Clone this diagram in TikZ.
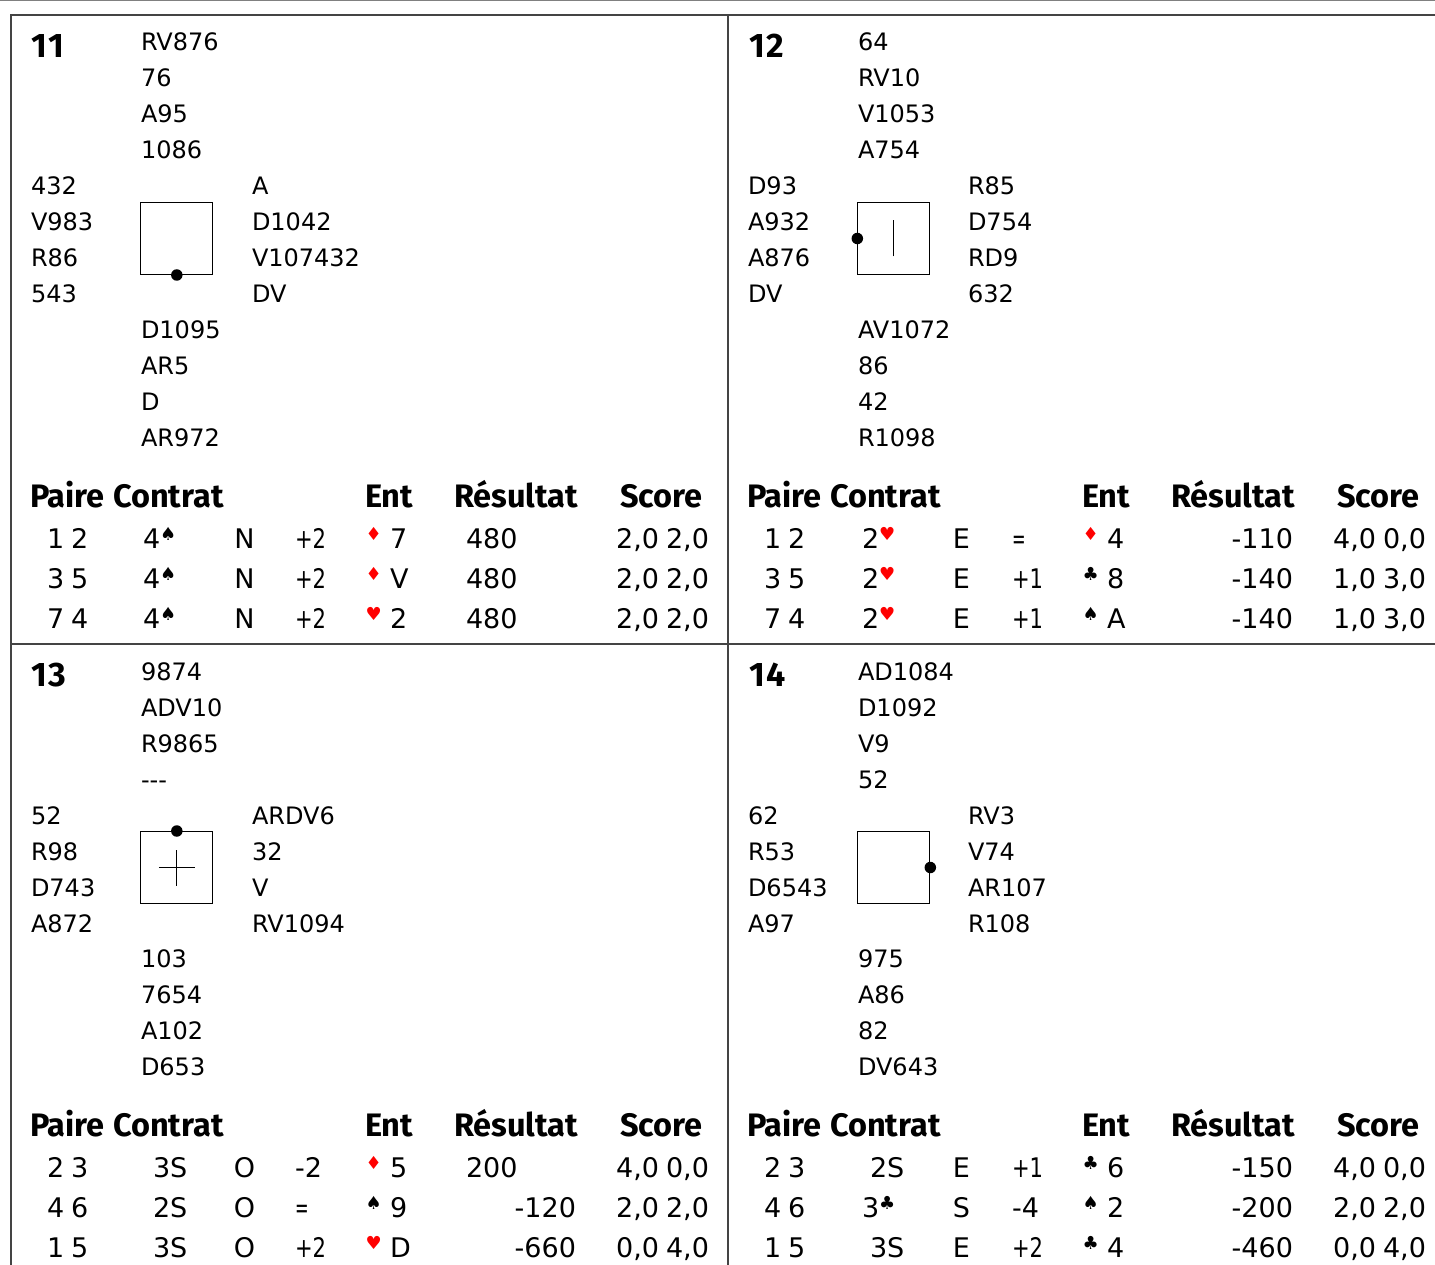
\documentclass[tikz,border=0pt]{standalone}
\usepackage{fontspec}
\setmainfont{DejaVu Sans}
\newfontfamily\headfont{Fira Sans}[BoldFont={Fira Sans Bold}]
\definecolor{rule}{HTML}{444444}
\definecolor{topline}{HTML}{808080}
\newcommand\suitmark[2]{{\fontsize{18}{18}\selectfont\raisebox{8pt}{\textcolor{#1}{#2}}}}
\newcommand\Sp{\suitmark{black}{♠}}
\newcommand\Cl{\suitmark{black}{♣}}
\newcommand\He{\suitmark{red}{♥}}
\newcommand\Di{\suitmark{red}{♦}}
\newcommand\Pl[1]{\scalebox{.78}[1]{#1}}
\newcommand\Eq{\scalebox{.6}[1]{=}}
\tikzset{
  x=1pt,y=-1pt,
  cell/.style={inner sep=0pt,outer sep=0pt,anchor=base west,font=\fontsize{24}{24}\selectfont},
  tcell/.style={cell,font=\fontsize{27}{27}\selectfont},
  tcellr/.style={tcell,anchor=base east},
  tcellc/.style={tcell,anchor=base},
  head/.style={cell,font=\headfont\bfseries\fontsize{32.5}{32.5}\selectfont},
  num/.style={cell,font=\headfont\bfseries\fontsize{34}{34}\selectfont\addfontfeature{LetterSpace=6}},
  board/.style={draw=black,line width=1pt,inner sep=0pt,minimum size=72pt},
  dealer/.style={circle,fill=black,inner sep=0pt,minimum size=11.5pt},
  frameline/.style={draw=rule,line width=1.4pt},
}
\newcommand\hand[4]{\foreach \t [count=\i] in {#4} {\node[cell] (#1\i) at (#2,{#3+36*(\i-1)}) {\t};}}
\newcommand\tablehead[1]{%
  \node[head] (#1paire) at (30,507) {Paire};
  \node[head] (#1contrat) at (113,507) {Contrat};
  \node[head] (#1ent) at (365,507) {Ent};
  \node[head] (#1res) at (454,507) {Résultat};
  \node[head] (#1score) at (620,507) {Score};}
\newcommand\tablerow[8]{%
  \node[tcell] (#1p) at (47,#2) {\spaceskip=.26em #3};
  \node[tcellc] (#1d) at (244.5,#2) {#4};
  \node[tcell] (#1o) at (295,#2) {#5};
  \node[tcell] (#1s) at (365.5,#2) {#6};
  \node[tcell] (#1c) at (390,#2) {#7};
  \node[tcellr] (#1sc) at (709,#2) {\spaceskip=.26em #8};}
\newcommand\contract[4]{\node[tcell] (#1) at (#2,#3) {#4};}
\newcommand\resleft[3]{\node[tcell] (#1) at (466,#2) {#3};}
\newcommand\resright[3]{\node[tcellr] (#1) at (576,#2) {#3};}
\begin{document}
\begin{tikzpicture}
\useasboundingbox (0,0) rectangle (1435,1265);
\draw[topline,line width=1.4pt] (0,0.5) -- (1435,0.5);
\draw[frameline] (1435,15) -- (11,15) -- (11,1265);
\draw[frameline] (728,15) -- (728,1265);
\draw[frameline] (11,644) -- (1435,644);

% ---- 11
\begin{scope}
\node[num] (n11) at (31,57.5) {11};
\hand{a}{141}{51}{RV876,76,A95,1086}
\hand{b}{31}{195}{432,V983,R86,543}
\hand{c}{252}{195}{A,D1042,V107432,DV}
\hand{d}{141}{338.5}{D1095,AR5,D,AR972}
\node[board] (ba) at (176.8,238.5) {};
\node[dealer] (da) at (ba.south) {};
\tablehead{ta}
\tablerow{ta1}{548}{1 2}{N}{\Pl{+2}}{\Di}{7}{2,0 2,0}
\tablerow{ta2}{588}{3 5}{N}{\Pl{+2}}{\Di}{V}{2,0 2,0}
\tablerow{ta3}{628}{7 4}{N}{\Pl{+2}}{\He}{2}{2,0 2,0}
\contract{ta1k}{143}{548}{4\Sp}
\contract{ta2k}{143}{588}{4\Sp}
\contract{ta3k}{143}{628}{4\Sp}
\resleft{ta1r}{548}{480}
\resleft{ta2r}{588}{480}
\resleft{ta3r}{628}{480}
\end{scope}

% ---- 12
\begin{scope}[xshift=717pt]
\node[num] (n12) at (32,57.5) {12};
\hand{e}{141}{51}{64,RV10,V1053,A754}
\hand{f}{31}{195}{D93,A932,A876,DV}
\hand{g}{251}{195}{R85,D754,RD9,632}
\hand{h}{141}{338.5}{AV1072,86,42,R1098}
\node[board] (bb) at (176.8,238.5) {};
\node[dealer] (db) at (bb.west) {};
\draw[black,line width=1pt] ([yshift=-18pt]bb.center) -- ([yshift=18pt]bb.center);
\tablehead{tb}
\tablerow{tb1}{548}{1 2}{E}{\Eq}{\Di}{4}{4,0 0,0}
\tablerow{tb2}{588}{3 5}{E}{\Pl{+1}}{\Cl}{8}{1,0 3,0}
\tablerow{tb3}{628}{7 4}{E}{\Pl{+1}}{\Sp}{A}{1,0 3,0}
\contract{tb1k}{145}{548}{2\He}
\contract{tb2k}{145}{588}{2\He}
\contract{tb3k}{145}{628}{2\He}
\resright{tb1r}{548}{-110}
\resright{tb2r}{588}{-140}
\resright{tb3r}{628}{-140}
\end{scope}

% ---- 13
\begin{scope}[yshift=-629pt]
\node[num] (n13) at (31,57.5) {13};
\hand{i}{141}{51}{9874,ADV10,R9865,-{}-{}-}
\hand{j}{31}{195}{52,R98,D743,A872}
\hand{k}{252}{195}{ARDV6,32,V,RV1094}
\hand{l}{141}{338.5}{103,7654,A102,D653}
\node[board] (bc) at (176.8,238.5) {};
\node[dealer] (dc) at (bc.north) {};
\draw[black,line width=1pt] ([yshift=-18pt]bc.center) -- ([yshift=18pt]bc.center);
\draw[black,line width=1pt] ([xshift=-18pt]bc.center) -- ([xshift=18pt]bc.center);
\tablehead{tc}
\tablerow{tc1}{548}{2 3}{O}{-2}{\Di}{5}{4,0 0,0}
\tablerow{tc2}{588}{4 6}{O}{\Eq}{\Sp}{9}{2,0 2,0}
\tablerow{tc3}{628}{1 5}{O}{\Pl{+2}}{\He}{D}{0,0 4,0}
\contract{tc1k}{153}{548}{3S}
\contract{tc2k}{153}{588}{2S}
\contract{tc3k}{153}{628}{3S}
\resleft{tc1r}{548}{200}
\resright{tc2r}{588}{-120}
\resright{tc3r}{628}{-660}
\end{scope}

% ---- 14
\begin{scope}[xshift=717pt,yshift=-629pt]
\node[num] (n14) at (32,57.5) {14};
\hand{m}{141}{51}{AD1084,D1092,V9,52}
\hand{o}{31}{195}{62,R53,D6543,A97}
\hand{q}{251}{195}{RV3,V74,AR107,R108}
\hand{r}{141}{338.5}{975,A86,82,DV643}
\node[board] (bd) at (176.8,238.5) {};
\node[dealer] (dd) at (bd.east) {};
\tablehead{td}
\tablerow{td1}{548}{2 3}{E}{\Pl{+1}}{\Cl}{6}{4,0 0,0}
\tablerow{td2}{588}{4 6}{S}{-4}{\Sp}{2}{2,0 2,0}
\tablerow{td3}{628}{1 5}{E}{\Pl{+2}}{\Cl}{4}{0,0 4,0}
\contract{td1k}{153}{548}{2S}
\contract{td2k}{145}{588}{3\Cl}
\contract{td3k}{153}{628}{3S}
\resright{td1r}{548}{-150}
\resright{td2r}{588}{-200}
\resright{td3r}{628}{-460}
\end{scope}
\end{tikzpicture}
\end{document}
